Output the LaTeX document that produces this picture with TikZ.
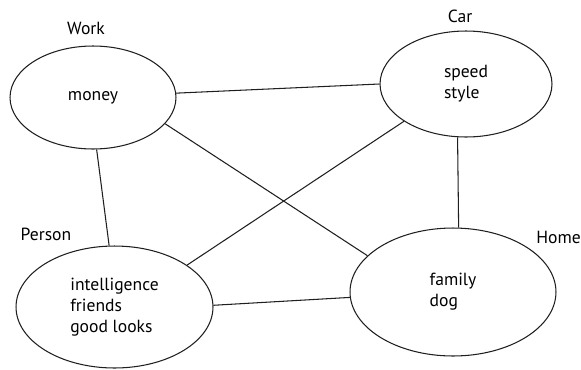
\documentclass[tikz,border=0pt]{standalone}
\usepackage{fontspec}
\setmainfont{PT Sans}
\usetikzlibrary{shapes.geometric,calc}
\definecolor{EdgeClr}{rgb}{0.12,0.12,0.12}

\begin{document}
\begin{tikzpicture}[x=0.02cm,y=-0.02cm,
  topic/.style={ellipse,draw=EdgeClr,line width=0.6pt,inner sep=0pt,align=left,
    font=\fontsize{10}{11.8}\selectfont},
  tag/.style={inner sep=0pt,font=\fontsize{10}{11.8}\selectfont},
  link/.style={line width=0.6pt,color=EdgeClr}]
\useasboundingbox (0,0) rectangle (581,369);

\node[topic,minimum width=3.32cm,minimum height=2.06cm] (work) at (93,97.5) {money};
\node[topic,minimum width=3.44cm,minimum height=2.12cm] (car) at (466,84) {speed\\style};
\node[topic,minimum width=3.94cm,minimum height=2.44cm] (person) at (114.5,307) {intelligence\\friends\\good looks};
\node[topic,minimum width=4.12cm,minimum height=2.56cm] (home) at (453,292) {family\\dog};

\node[tag] (workTag) at (86,28) {Work};
\node[tag] (carTag) at (460,16) {Car};
\node[tag] (personTag) at (46,234) {Person};
\node[tag,anchor=west] (homeTag) at (536,237) {Home};

\draw[link] (work.3) -- (car.180);
\draw[link] (work.274) -- (person.95);
\draw[link] (work.-20) -- (home.157);
\draw[link] (car.211) -- (person.30);
\draw[link] (car.261) -- (home.85.5);
\draw[link] (person.1) -- (home.183);

\end{tikzpicture}
\end{document}
